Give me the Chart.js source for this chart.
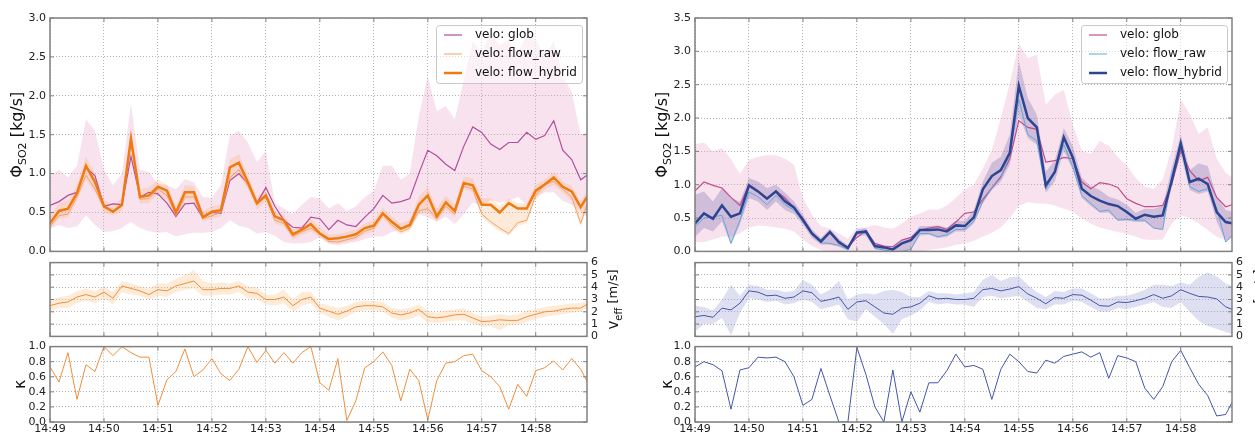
<!DOCTYPE html>
<html>
<head>
<meta charset="utf-8">
<script src="https://cdn.jsdelivr.net/npm/chart.js@4.4.0/dist/chart.umd.min.js"></script>
<style>
  html, body { margin: 0; padding: 0; background: #fff; overflow: hidden; }
  #wrap { position: relative; width: 1255px; height: 435px; overflow: hidden; }
  canvas { position: absolute; }
</style>
</head>
<body>
<div id="wrap">
  <canvas id="lTop" width="640" height="262" style="left:0;top:0"></canvas>
  <canvas id="lMid" width="640" height="95" style="left:0;top:252px"></canvas>
  <canvas id="lBot" width="640" height="99" style="left:0;top:336px"></canvas>
  <canvas id="rTop" width="640" height="262" style="left:627px;top:0"></canvas>
  <canvas id="rMid" width="640" height="95" style="left:627px;top:252px"></canvas>
  <canvas id="rBot" width="640" height="99" style="left:627px;top:336px"></canvas>
</div>
<script>
// seconds after 14:49:00
const seconds = [0,10,20,30,40,50,60,70,80,90,100,110,120,130,140,150,160,170,180,190,
  200,210,220,230,240,250,260,270,280,290,300,310,320,330,340,350,360,370,380,390,
  400,410,420,430,440,450,460,470,480,490,500,510,520,530,540,550,560,570,580,590,597];
const tickSeconds = [0,60,120,180,240,300,360,420,480,540];
const tickLabels = ['14:49','14:50','14:51','14:52','14:53','14:54','14:55','14:56','14:57','14:58'];

// left panel
const leftGlob = [0.59,0.64,0.72,0.76,1.08,0.97,0.58,0.61,0.60,1.22,
  0.70,0.76,0.74,0.62,0.45,0.61,0.62,0.43,0.50,0.49,
  0.91,1.00,0.87,0.62,0.82,0.58,0.40,0.31,0.30,0.44,
  0.42,0.28,0.40,0.34,0.32,0.44,0.55,0.72,0.62,0.64,
  0.68,1.00,1.30,1.23,1.12,1.04,1.35,1.60,1.53,1.38,
  1.31,1.40,1.40,1.53,1.44,1.49,1.68,1.30,1.18,0.92,0.98];
const leftGlobHi = [0.97,1.05,0.95,1.10,1.70,1.55,1.05,0.85,1.00,1.90,
  1.05,1.02,0.87,0.85,0.80,0.93,0.89,0.70,0.69,0.85,
  1.49,1.55,1.40,1.15,1.29,0.62,0.55,0.48,0.60,0.70,
  0.68,0.55,0.62,0.52,0.58,0.70,0.78,1.10,1.10,0.92,
  1.00,1.74,2.25,1.80,1.87,1.70,2.20,2.70,2.55,2.82,
  2.65,2.72,2.55,2.78,2.72,2.50,2.70,2.25,2.05,1.50,1.53];
const leftGlobLo = [0.29,0.34,0.30,0.32,0.46,0.34,0.25,0.26,0.30,0.38,
  0.30,0.26,0.24,0.25,0.19,0.22,0.24,0.24,0.25,0.30,
  0.40,0.33,0.30,0.23,0.25,0.20,0.12,0.10,0.10,0.12,
  0.18,0.10,0.08,0.10,0.12,0.16,0.19,0.19,0.25,0.28,
  0.30,0.48,0.44,0.38,0.45,0.35,0.48,0.63,0.58,0.66,
  0.63,0.65,0.70,0.60,0.70,0.76,0.76,0.65,0.60,0.51,0.44];
const leftRaw = [0.32,0.46,0.48,0.70,0.98,0.80,0.56,0.52,0.58,1.40,
  0.67,0.68,0.80,0.72,0.46,0.70,0.70,0.42,0.46,0.50,
  0.95,1.05,0.85,0.60,0.70,0.40,0.36,0.19,0.25,0.30,
  0.22,0.13,0.12,0.15,0.18,0.26,0.30,0.47,0.34,0.25,
  0.30,0.52,0.55,0.42,0.58,0.48,0.84,0.80,0.48,0.38,
  0.30,0.23,0.37,0.40,0.72,0.86,0.90,0.80,0.70,0.36,0.60];
const leftHybrid = [0.36,0.52,0.55,0.75,1.10,0.89,0.58,0.51,0.60,1.45,
  0.70,0.72,0.83,0.78,0.50,0.76,0.76,0.44,0.51,0.53,
  1.08,1.14,0.89,0.62,0.72,0.45,0.40,0.22,0.28,0.35,
  0.23,0.16,0.17,0.19,0.22,0.30,0.33,0.49,0.38,0.29,
  0.34,0.60,0.72,0.45,0.63,0.52,0.88,0.85,0.60,0.60,
  0.50,0.62,0.55,0.55,0.78,0.86,0.95,0.83,0.77,0.57,0.70];
const leftHybridHi = [0.45,0.62,0.65,0.85,1.22,1.00,0.66,0.60,0.68,1.55,
  0.80,0.82,0.92,0.86,0.58,0.85,0.84,0.52,0.58,0.60,
  1.18,1.25,0.98,0.70,0.80,0.52,0.47,0.28,0.34,0.42,
  0.31,0.22,0.22,0.25,0.28,0.36,0.40,0.56,0.45,0.36,
  0.40,0.70,0.82,0.55,0.72,0.60,0.96,0.94,0.68,0.68,
  0.58,0.68,0.62,0.62,0.86,0.92,1.02,0.90,0.84,0.64,0.78];
const leftHybridLo = [0.28,0.42,0.44,0.65,0.92,0.76,0.50,0.46,0.52,1.32,
  0.62,0.62,0.74,0.66,0.42,0.65,0.65,0.38,0.42,0.45,
  0.90,0.98,0.80,0.54,0.64,0.36,0.32,0.15,0.21,0.26,
  0.18,0.10,0.10,0.12,0.15,0.22,0.26,0.42,0.30,0.22,
  0.26,0.48,0.50,0.38,0.54,0.44,0.80,0.76,0.44,0.34,
  0.26,0.20,0.33,0.36,0.66,0.80,0.85,0.75,0.65,0.32,0.55];
const leftVeff = [2.5,2.7,2.8,3.2,3.4,3.2,3.6,3.1,4.1,3.9,
  3.7,3.4,3.8,3.7,4.1,4.3,4.5,3.8,3.8,3.9,
  3.9,4.1,3.6,3.5,3.0,3.0,3.2,2.5,3.0,3.2,
  2.3,2.05,1.8,2.05,2.4,2.5,2.5,2.4,1.9,1.75,
  1.9,2.2,1.6,1.5,1.6,1.75,1.8,1.5,1.2,1.25,
  1.35,1.3,1.3,1.6,1.8,2.0,2.05,2.2,2.3,2.3,2.6];
const leftVeffHi = [2.9,3.2,3.3,3.7,3.9,3.7,4.1,3.6,4.5,4.3,
  4.1,3.9,4.3,4.3,4.7,5.0,5.4,4.5,4.3,4.4,
  4.3,4.5,4.1,4.0,3.4,3.4,3.8,3.0,3.6,3.6,
  2.7,2.5,2.3,2.5,2.8,2.9,2.9,2.8,2.3,2.2,
  2.3,2.6,2.1,1.9,2.1,2.2,2.3,1.9,1.6,1.7,
  1.8,1.7,1.8,2.1,2.2,2.4,2.5,2.6,2.7,2.7,2.9];
const leftVeffLo = [2.0,2.3,2.3,2.7,2.9,2.7,3.1,2.6,3.6,3.4,
  3.3,3.0,3.3,3.2,3.6,3.8,3.9,3.3,3.3,3.4,
  3.4,3.6,3.1,3.0,2.6,2.5,2.7,2.0,2.5,2.7,
  1.9,1.6,1.3,1.6,2.0,2.1,2.1,2.0,1.5,1.3,
  1.4,1.7,1.1,1.1,1.2,1.3,1.3,1.0,0.8,0.8,
  0.5,0.9,0.9,1.2,1.4,1.6,1.7,1.8,1.9,2.0,2.3];
const leftKappa = [0.73,0.53,0.92,0.30,0.76,0.67,1.00,0.88,1.00,0.92,
  0.86,0.86,0.22,0.56,0.67,0.97,0.60,0.69,0.84,0.64,
  0.55,0.70,1.00,0.79,0.95,0.78,0.92,0.78,0.92,1.00,
  0.52,0.42,0.84,0.02,0.28,0.72,0.80,0.93,0.75,0.28,
  0.70,0.55,0.03,0.55,0.78,0.80,0.88,0.90,0.68,0.60,
  0.47,0.17,0.50,0.34,0.68,0.72,0.81,0.69,0.84,0.70,0.54];

// right panel
const rightGlob = [0.91,1.04,0.99,0.95,0.81,0.69,1.00,0.91,0.80,0.91,
  0.80,0.66,0.49,0.28,0.14,0.29,0.12,0.07,0.21,0.31,
  0.12,0.08,0.07,0.17,0.21,0.32,0.35,0.37,0.33,0.44,
  0.57,0.59,0.78,0.95,1.12,1.39,1.96,1.86,1.83,1.34,
  1.36,1.41,1.39,1.04,0.94,1.03,1.01,0.96,0.79,0.72,
  0.67,0.67,0.69,1.01,1.51,1.21,1.06,1.11,0.81,0.67,0.70];
const rightGlobHi = [1.61,1.63,1.50,1.55,1.38,1.16,1.37,1.42,1.44,1.44,
  1.39,1.30,0.80,0.55,0.38,0.34,0.27,0.19,0.36,0.36,
  0.40,0.36,0.34,0.42,0.52,0.57,0.63,0.62,0.69,0.80,
  0.93,1.00,1.24,1.52,2.00,2.52,3.12,2.90,2.95,2.20,
  2.35,2.42,1.90,1.51,1.46,1.66,1.58,1.41,1.29,1.10,
  0.97,0.94,1.08,1.53,2.28,2.06,1.76,1.86,1.39,1.18,1.11];
const rightGlobLo = [0.14,0.14,0.18,0.22,0.22,0.27,0.36,0.39,0.38,0.36,
  0.34,0.30,0.18,0.08,0.02,0.00,0.00,0.00,0.00,0.00,
  0.00,0.00,0.00,0.00,0.00,0.00,0.02,0.04,0.06,0.10,
  0.12,0.16,0.22,0.28,0.36,0.50,0.68,0.74,0.72,0.72,
  0.69,0.64,0.60,0.49,0.42,0.36,0.32,0.29,0.26,0.22,
  0.18,0.17,0.18,0.42,0.54,0.50,0.42,0.32,0.22,0.17,0.18];
const rightRaw = [0.37,0.50,0.52,0.54,0.12,0.47,0.89,0.82,0.70,0.84,
  0.70,0.62,0.45,0.25,0.13,0.12,0.09,0.03,0.29,0.27,
  0.05,0.02,0.00,0.00,0.03,0.27,0.27,0.22,0.25,0.33,
  0.33,0.45,0.75,0.95,1.10,1.45,2.28,1.75,1.66,0.93,
  1.19,1.60,1.27,0.84,0.72,0.60,0.62,0.47,0.48,0.47,
  0.47,0.35,0.33,1.15,1.60,0.97,0.90,0.94,0.65,0.14,0.24];
const rightHybrid = [0.42,0.57,0.49,0.69,0.52,0.57,0.99,0.90,0.79,0.90,
  0.75,0.66,0.47,0.27,0.15,0.29,0.14,0.05,0.28,0.30,
  0.08,0.06,0.03,0.12,0.17,0.32,0.32,0.33,0.30,0.39,
  0.38,0.51,0.93,1.13,1.22,1.48,2.48,2.00,1.86,0.99,
  1.19,1.71,1.41,0.94,0.83,0.76,0.71,0.68,0.59,0.49,
  0.55,0.52,0.54,1.06,1.62,1.04,1.09,1.01,0.59,0.44,0.42];
const rightHybridHi = [0.85,0.90,0.75,0.95,0.80,0.75,1.10,1.05,0.95,1.00,
  0.88,0.75,0.55,0.33,0.20,0.34,0.19,0.09,0.33,0.35,
  0.12,0.09,0.06,0.16,0.22,0.38,0.38,0.39,0.36,0.46,
  0.46,0.62,1.05,1.33,1.42,1.75,2.85,2.30,2.05,1.20,
  1.36,1.85,1.58,1.10,0.98,0.92,0.82,0.78,0.70,0.58,
  0.64,0.64,0.68,1.25,1.75,1.22,1.32,1.28,0.82,0.62,0.60];
const rightHybridLo = [0.22,0.35,0.30,0.45,0.10,0.40,0.80,0.75,0.62,0.75,
  0.62,0.56,0.40,0.20,0.10,0.10,0.07,0.01,0.24,0.24,
  0.03,0.01,0.00,0.00,0.03,0.24,0.25,0.20,0.22,0.30,
  0.30,0.42,0.72,0.92,1.05,1.30,2.05,1.70,1.60,0.88,
  1.05,1.50,1.22,0.80,0.68,0.58,0.58,0.46,0.46,0.44,
  0.44,0.34,0.32,0.98,1.45,0.92,0.86,0.90,0.45,0.14,0.22];
const rightVeff = [1.6,1.7,1.55,2.3,2.15,2.7,3.7,3.6,3.3,3.35,
  3.1,3.2,3.7,3.55,2.85,3.0,3.2,2.2,2.8,2.9,
  2.4,1.9,1.8,2.3,2.4,2.7,3.3,3.05,3.1,3.0,
  3.0,3.1,3.8,3.9,3.7,3.85,4.05,3.45,3.1,2.65,
  3.15,3.1,3.4,3.35,2.95,2.5,2.45,2.8,2.75,2.9,
  3.1,3.4,3.1,3.3,3.8,3.5,3.25,3.2,3.05,2.4,2.2];
const rightVeffHi = [2.5,2.4,2.1,3.0,4.2,3.3,4.2,4.1,3.8,3.8,
  3.6,3.7,4.6,4.2,3.4,3.8,4.5,3.0,3.4,3.5,
  3.4,3.7,3.8,3.6,3.2,3.2,3.7,3.5,3.5,3.4,
  3.5,3.6,4.6,5.0,4.5,4.8,4.9,4.2,3.6,3.2,
  3.7,3.6,3.9,3.9,3.5,3.1,3.1,3.3,3.3,3.5,
  3.8,4.2,4.2,4.1,4.4,4.2,4.85,5.2,4.9,4.3,4.1];
const rightVeffLo = [0.4,1.0,1.0,1.5,0.1,1.9,3.1,3.0,2.8,2.9,
  2.6,2.7,3.0,2.8,2.2,2.4,2.6,1.4,1.2,2.2,
  1.6,1.0,0.2,1.4,1.7,2.1,2.8,2.6,2.7,2.6,
  2.6,2.4,3.2,3.3,3.1,3.2,3.3,2.8,2.3,2.2,
  2.6,2.6,2.9,2.8,2.4,2.0,2.0,2.3,2.2,2.4,
  2.6,2.8,2.4,2.3,2.8,2.0,1.25,0.85,0.6,0.35,0.2];
const rightKappa = [0.73,0.80,0.76,0.68,0.17,0.69,0.72,0.86,0.85,0.86,
  0.80,0.60,0.22,0.30,0.71,0.35,0.00,0.00,0.99,0.63,
  0.20,0.00,0.69,0.00,0.40,0.13,0.52,0.52,0.68,0.90,
  0.73,0.75,0.70,0.30,0.70,0.90,0.80,0.67,0.65,0.82,
  0.78,0.87,0.90,0.93,0.86,0.92,0.58,0.88,0.85,0.80,
  0.45,0.30,0.47,0.80,0.95,0.72,0.50,0.35,0.08,0.10,0.26];

Chart.defaults.font.family = "'DejaVu Sans', sans-serif";
Chart.defaults.color = '#333';

const pts = arr => arr.map((v, i) => ({ x: seconds[i], y: v }));

const gridColor = '#b4b4b4';
const pinkBand = 'rgba(228,150,192,0.28)';

// frame + inward tick marks like matplotlib axes
const framePlugin = {
  id: 'frame',
  afterDraw(chart) {
    const a = chart.chartArea, ctx = chart.ctx;
    const xs = chart.scales.x, ys = chart.scales.y;
    ctx.save();
    ctx.strokeStyle = '#808080';
    ctx.lineWidth = 1;
    ctx.beginPath();
    xs.ticks.forEach(t => {
      const p = xs.getPixelForValue(t.value);
      ctx.moveTo(p, a.bottom); ctx.lineTo(p, a.bottom - 4);
      ctx.moveTo(p, a.top); ctx.lineTo(p, a.top + 4);
    });
    ys.ticks.forEach(t => {
      const p = ys.getPixelForValue(t.value);
      ctx.moveTo(a.left, p); ctx.lineTo(a.left + 4, p);
      ctx.moveTo(a.right, p); ctx.lineTo(a.right - 4, p);
    });
    ctx.stroke();
    ctx.lineWidth = 1.5;
    ctx.strokeRect(a.left, a.top, a.right - a.left, a.bottom - a.top);
    ctx.restore();
  }
};

// rotated axis label with subscript pieces
const sideLabelPlugin = {
  id: 'sideLabel',
  afterDraw(chart, args, opts) {
    if (!opts || !opts.parts) return;
    const a = chart.chartArea, ctx = chart.ctx;
    const fam = "'DejaVu Sans', sans-serif";
    ctx.save();
    let total = 0;
    opts.parts.forEach(p => { ctx.font = p.size + 'px ' + fam; total += ctx.measureText(p.text).width; });
    ctx.translate(opts.x, (a.top + a.bottom) / 2);
    ctx.rotate(-Math.PI / 2);
    ctx.fillStyle = '#111';
    ctx.textBaseline = 'middle';
    let cx = -total / 2;
    opts.parts.forEach(p => {
      ctx.font = p.size + 'px ' + fam;
      ctx.fillText(p.text, cx, p.dy || 0);
      cx += ctx.measureText(p.text).width;
    });
    ctx.restore();
  }
};

// boxed legend in the top-right corner
const legendBoxPlugin = {
  id: 'legendBox',
  afterDraw(chart, args, opts) {
    if (!opts || !opts.items) return;
    const a = chart.chartArea, ctx = chart.ctx;
    const w = 146, h = 58;
    const left = a.right - 5 - w, top = a.top + 7;
    ctx.save();
    ctx.fillStyle = 'rgba(255,255,255,0.5)';
    ctx.strokeStyle = '#c8c8c8';
    ctx.lineWidth = 1;
    ctx.beginPath();
    ctx.roundRect(left + 0.5, top + 0.5, w, h, 3);
    ctx.fill();
    ctx.stroke();
    ctx.font = "12px 'DejaVu Sans', sans-serif";
    ctx.textBaseline = 'middle';
    opts.items.forEach((it, i) => {
      const y = top + 10 + i * 19;
      ctx.strokeStyle = it.color;
      ctx.lineWidth = it.width;
      ctx.beginPath();
      ctx.moveTo(left + 8, y); ctx.lineTo(left + 26, y);
      ctx.stroke();
      ctx.fillStyle = '#111';
      ctx.fillText(it.label, left + 39, y);
    });
    ctx.restore();
  }
};

function xScale(showLabels, height) {
  return {
    type: 'linear', min: 0, max: 597,
    afterBuildTicks: s => { s.ticks = tickSeconds.map(v => ({ value: v })); },
    afterFit: s => { s.height = height; },
    grid: { color: gridColor, drawTicks: false },
    border: { display: false, dash: [1, 2] },
    ticks: {
      display: showLabels, padding: 1, maxRotation: 0, autoSkip: false,
      font: { size: 11 }, color: '#222',
      callback: v => tickLabels[tickSeconds.indexOf(v)]
    }
  };
}

function yScale(min, max, step, width, pos, digits) {
  return {
    position: pos, min: min, max: max,
    afterFit: s => { s.width = width; },
    afterBuildTicks: s => {
      const t = [];
      for (let i = 0; min + i * step <= max + 1e-9; i++) t.push({ value: +(min + i * step).toFixed(4) });
      s.ticks = t;
    },
    grid: { color: gridColor, drawTicks: false },
    border: { display: false, dash: [1, 2] },
    ticks: { padding: 4, autoSkip: false, font: { size: 11 }, color: '#222', callback: v => v.toFixed(digits) }
  };
}

function line(data, color, width, order) {
  return { data: pts(data), borderColor: color, borderWidth: width, pointRadius: 0, fill: false, order: order, tension: 0 };
}
function band(hi, lo, color, order) {
  return [
    { data: pts(hi), borderWidth: 0, pointRadius: 0, backgroundColor: color, fill: '+1', order: order, tension: 0 },
    { data: pts(lo), borderWidth: 0, pointRadius: 0, fill: false, order: order + 1, tension: 0 }
  ];
}

function baseOptions(padding, scales, plugins) {
  return {
    responsive: false, animation: false, events: [],
    layout: { padding: padding },
    scales: scales,
    plugins: Object.assign({ legend: { display: false }, tooltip: { enabled: false } }, plugins)
  };
}

function buildPanel(p) {
  // flux
  new Chart(document.getElementById(p.id + 'Top'), {
    type: 'line',
    data: { datasets: [
      line(p.hybrid, p.hybColor, 2.5, 0),
      line(p.raw, p.rawColor, 1, 1),
      line(p.glob, p.globColor, 1.2, 2),
      ...band(p.hybridHi, p.hybridLo, p.hybBand, 3),
      ...band(p.globHi, p.globLo, pinkBand, 5)
    ] },
    options: baseOptions({ left: 0, right: p.padR, top: 18, bottom: 9 }, {
      x: xScale(false, 0),
      y: yScale(0, p.fluxMax, 0.5, p.yW, 'left', 1)
    }, {
      sideLabel: { x: p.titleX, parts: [
        { text: 'Φ', size: 16 }, { text: 'SO2', size: 11, dy: 5 }, { text: ' [kg/s]', size: 16 }] },
      legendBox: { items: [
        { label: 'velo: glob', color: p.globColor, width: 1.2 },
        { label: 'velo: flow_raw', color: p.rawColor, width: 1 },
        { label: 'velo: flow_hybrid', color: p.hybColor, width: 2.5 }] }
    }),
    plugins: [framePlugin, sideLabelPlugin, legendBoxPlugin]
  });

  // effective velocity
  new Chart(document.getElementById(p.id + 'Mid'), {
    type: 'line',
    data: { datasets: [
      line(p.veff, p.thinColor, 1, 0),
      ...band(p.veffHi, p.veffLo, p.veffBand, 1)
    ] },
    options: baseOptions({ left: p.yW, right: 0, top: 8, bottom: 9 }, {
      x: xScale(false, 0),
      y: yScale(0, 6, 1, p.padR, 'right', 0)
    }, {
      sideLabel: { x: p.veffX, parts: [
        { text: 'v', size: 15 }, { text: 'eff', size: 10, dy: 5 }, { text: ' [m/s]', size: 13 }] }
    }),
    plugins: [framePlugin, sideLabelPlugin]
  });

  // kappa
  new Chart(document.getElementById(p.id + 'Bot'), {
    type: 'line',
    data: { datasets: [ line(p.kappa, p.thinColor, 1, 0) ] },
    options: baseOptions({ left: 0, right: p.padR, top: 8, bottom: 0 }, {
      x: xScale(true, 13),
      y: yScale(0, 1, 0.2, p.yW, 'left', 1)
    }, {
      sideLabel: { x: p.kappaX, parts: [{ text: 'κ', size: 16 }] }
    }),
    plugins: [framePlugin, sideLabelPlugin]
  });
}

buildPanel({
  id: 'l', yW: 50, padR: 53, titleX: 18, kappaX: 21, veffX: 614, fluxMax: 3,
  glob: leftGlob, globHi: leftGlobHi, globLo: leftGlobLo, raw: leftRaw,
  hybrid: leftHybrid, hybridHi: leftHybridHi, hybridLo: leftHybridLo,
  veff: leftVeff, veffHi: leftVeffHi, veffLo: leftVeffLo, kappa: leftKappa,
  globColor: '#b34e9e', rawColor: '#f4a06a', hybColor: '#f07a10', thinColor: '#f08e3c',
  hybBand: 'rgba(250,170,100,0.25)', veffBand: 'rgba(250,185,120,0.28)'
});

buildPanel({
  id: 'r', yW: 68, padR: 35, titleX: 36, kappaX: 41, veffX: 633, fluxMax: 3.5,
  glob: rightGlob, globHi: rightGlobHi, globLo: rightGlobLo, raw: rightRaw,
  hybrid: rightHybrid, hybridHi: rightHybridHi, hybridLo: rightHybridLo,
  veff: rightVeff, veffHi: rightVeffHi, veffLo: rightVeffLo, kappa: rightKappa,
  globColor: '#c24d8c', rawColor: '#62a8d8', hybColor: '#2c4593', thinColor: '#4256a8',
  hybBand: 'rgba(90,80,160,0.25)', veffBand: 'rgba(140,140,210,0.28)'
});
</script>
</body>
</html>
